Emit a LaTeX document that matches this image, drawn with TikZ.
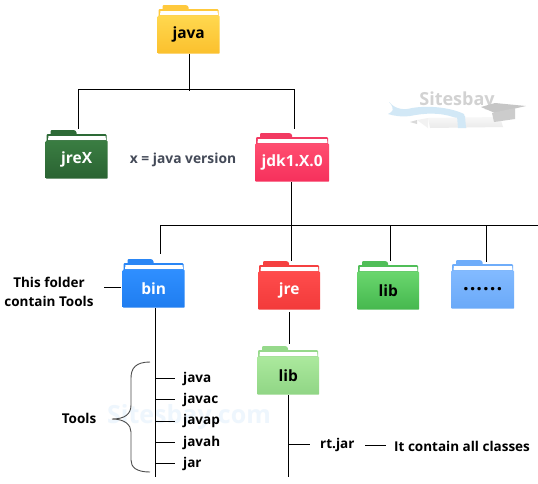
\documentclass[tikz,border=0pt]{standalone}
\usepackage{fontspec}
\setmainfont{Open Sans}
\usetikzlibrary{calc}
\tikzset{
  wire/.style={draw=black,line width=0.8pt},
  note/.style={font=\bfseries\fontsize{13.5}{19}\selectfont,text=black,inner sep=0pt},
  leaf/.style={note,anchor=west},
  panel/.style={inner sep=0pt,rounded corners=0.8pt,font=\bfseries\fontsize{15.5}{18}\selectfont},
}
% #1 name, #2 left, #3 top, #4 width, #5 light, #6 dark, #7 tab, #8 text colour, #9 text
\newcommand\folder[9]{%
  \begin{scope}[shift={(#2,#3)}]
    \definecolor{fa}{HTML}{#5}\definecolor{fb}{HTML}{#6}\definecolor{fc}{HTML}{#7}
    \fill[fc,rounded corners=1pt] (5,0) -- (5,6) -- ({#4*0.5},6) -- ({#4*0.5},1.5) -- ({#4*0.5-2},0) -- cycle;
    \fill[fc,rounded corners=1pt] (1,12) -- (1,4) -- (#4-1,4) -- (#4-1,12) -- cycle;
    \fill[white] (3,6) -- (#4-2,6) -- (#4-1.5,10) -- (2.5,10) -- cycle;
    \node[panel,minimum width=#4 pt,minimum height=38pt,top color=fa,bottom color=fb,text=#8,anchor=north west] (#1) at (0,10.5) {\raisebox{0.5pt}{#9}};
  \end{scope}}
\begin{document}
\begin{tikzpicture}[x=1pt,y=-1pt]
\useasboundingbox (0,0) rectangle (538,483);
\fill[white] (0,0) rectangle (538,483);
% watermarks
\definecolor{wmblue}{HTML}{EEF6FD}
\definecolor{ribbon}{HTML}{D2E8F6}
\node[inner sep=0pt,text=wmblue,font=\bfseries\fontsize{25}{25}\selectfont] (wm) at (189,417) {Sitesbay.com};
\fill[ribbon] (389,102) .. controls (396,110) and (405,110) .. (412,108) .. controls (430,105) and (452,108) .. (464,114) -- (465,118) -- (456,118) .. controls (440,112) and (425,113) .. (410,116) .. controls (402,117) and (394,116) .. (388,114) .. controls (392,112) and (396,110) .. (389,102) -- cycle;
\shade[top color=gray!6,bottom color=gray!16] (428,118) -- (500,117) -- (503,127) -- (430,128) -- cycle;
\fill[ribbon] (457,116) -- (465,116) -- (466,128) -- (458,128) -- cycle;
\fill[gray!30] (410,122) -- (417,120) -- (417,124) -- cycle;
\fill[gray!10] (417,120) -- (428,118) -- (428,128) -- cycle;
\node[inner sep=0pt,text=gray!35,font=\bfseries\fontsize{18}{18}\selectfont] (logo) at (457,101) {Sitesbay};
\fill[gray!45] (481,107) -- (495,103) -- (526,106) -- (495,113) -- cycle;
\fill[gray!40] (492,113) -- (515,108) -- (515,119) -- (494,122) -- cycle;
% folders
\folder{java}{157.5}{5}{62}{FFD84F}{FBC02D}{FFC93C}{black}{java}
\folder{jrex}{45.5}{130}{62}{3A7D42}{2A6332}{2D6A36}{white}{jreX}
\folder{jdk}{255}{133}{74}{FF4E70}{F6305C}{F23A62}{white}{jdk1.X.0}
\folder{bin}{122.5}{259}{62}{2F8FFF}{1F7DF0}{2A86F5}{white}{bin}
\folder{jre}{258}{261}{62}{FF4C4C}{F23A3A}{F54040}{white}{jre}
\folder{libg}{357}{261}{62}{6AD66E}{45B84E}{50BE58}{black}{lib}
\folder{dots}{451}{260}{63}{82BAFF}{6AA9F8}{6FADFA}{black}{\fontsize{20}{20}\selectfont\addfontfeature{LetterSpace=5}......}
\folder{libl}{257}{346}{62}{ABE99D}{90D585}{96D98B}{black}{lib}
% named free ends
\coordinate (top) at (189.5,89.5);
\coordinate (topL) at (78.5,89.5);
\coordinate (topR) at (294.5,89.5);
\coordinate (busL) at (160,225);
\coordinate (busM) at (291.5,225);
\coordinate (busA) at (390.5,225);
\coordinate (busB) at (486.5,225);
\coordinate (busR) at (538,225);
\coordinate (binEnd) at (155,477);
\coordinate (libEnd) at (288.5,477);
\coordinate (jreTop) at (289.5,344);
% labels
\definecolor{vertext}{HTML}{444A58}
\node[inner sep=0pt,text=vertext,font=\bfseries\fontsize{13.8}{16}\selectfont] (xver) at (183,160) {x = java version};
\node[note,align=center] (thisf) at (49,292) {This folder\\contain Tools};
\node[note] (tools) at (79,418) {Tools};
\node[leaf] (l1) at (183,379) {java};
\node[leaf] (l2) at (183,400) {javac};
\node[leaf] (l3) at (183,421) {javap};
\node[leaf] (l4) at (183,442.5) {javah};
\node[leaf] (l5) at (183,463.5) {jar};
\node[leaf] (rt) at (320,445) {rt.jar};
\node[leaf] (all) at (394,446) {It contain all classes};
% connectors
\draw[wire] (top|-java.south) -- (top);
\draw[wire] ($(topL|-jrex.north)+(0,-12)$) -- (topL) -- (topR) -- ($(topR|-jdk.north)+(0,-14.5)$);
\draw[wire] (top) -- ++(0,1);
\draw[wire] (busM|-jdk.south) -- (busM);
\draw[wire] (busL) -- (busR);
\draw[wire] (busL) -- ($(busL|-bin.north)+(0,-15.5)$);
\draw[wire] (busM) -- ($(busM|-jre.north)+(0,-10.5)$);
\draw[wire] (busA) -- ($(busA|-libg.north)+(0,-10.5)$);
\draw[wire] (busB) -- ($(busB|-dots.north)+(0,-8.5)$);
\draw[wire] (binEnd|-bin.south) -- (binEnd);
\foreach \n/\yy in {l1/378,l2/399.5,l3/421,l4/442.5,l5/463.5}
  \draw[wire] (155,\yy) -- (175,\yy);
\draw[wire] ($(bin.west)+(-18.5,-1.5)$) -- ($(bin.west)+(-1.5,-1.5)$);
\draw[wire] ($(jreTop|-jre.south)+(0,2)$) -- (jreTop);
\draw[wire] (libEnd|-libl.south) -- (libEnd);
\draw[wire] (288.5,444.5) -- ($(rt.west)+(-10,-0.5)$);
\draw[wire] ($(all.west)+(-29,-1)$) -- ($(all.west)+(-8,-1)$);
% brace
\draw[gray!60!black,line width=0.9pt] (150,362) .. controls (136,362) and (131,368) .. (131,378) -- (131,405) .. controls (131,414) and (125,419) .. (112,419) .. controls (125,419) and (131,425) .. (131,432) -- (131,460) .. controls (131,467) and (136,472) .. (150,472);
\end{tikzpicture}
\end{document}
